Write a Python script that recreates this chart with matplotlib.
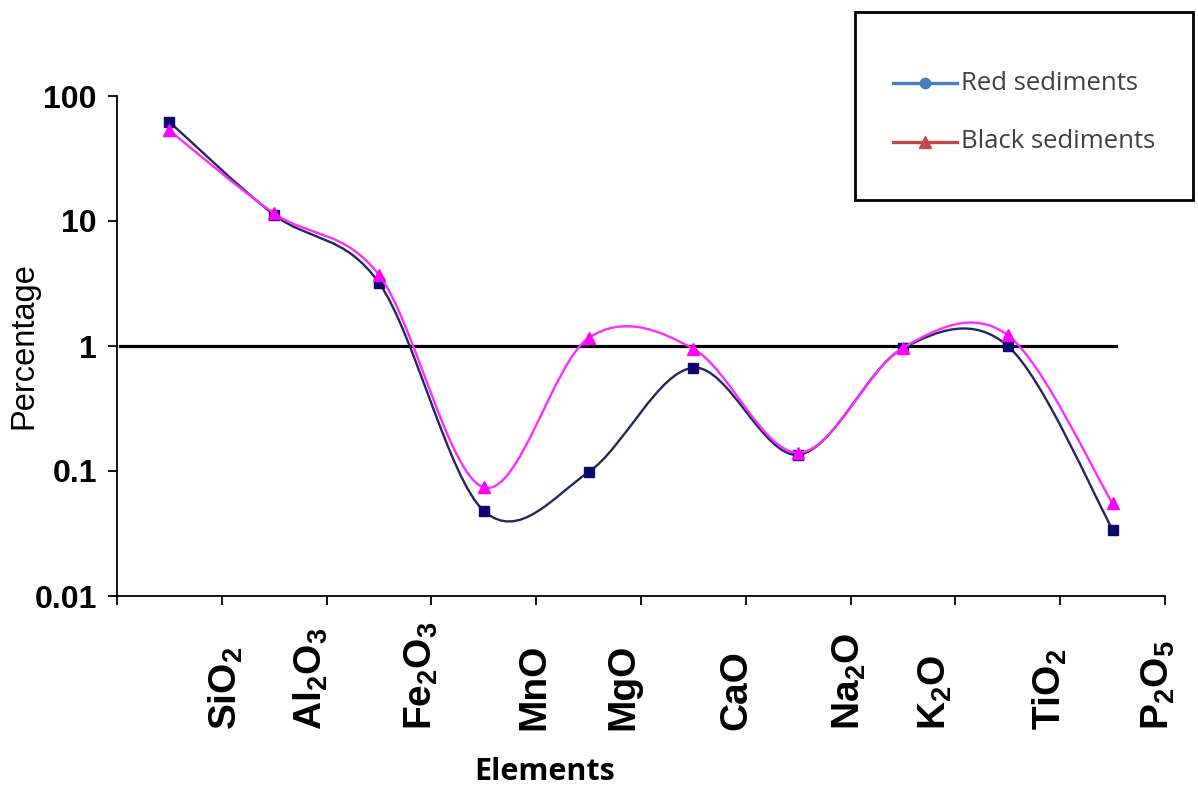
import numpy as np
import matplotlib
matplotlib.use("Agg")
import matplotlib.pyplot as plt
from matplotlib.path import Path
from matplotlib.patches import PathPatch, Rectangle
from matplotlib.lines import Line2D
import matplotlib.transforms as mtransforms

# ---------------- data ----------------
categories = [r"SiO$_2$", r"Al$_2$O$_3$", r"Fe$_2$O$_3$", "MnO", "MgO",
              "CaO", r"Na$_2$O", r"K$_2$O", r"TiO$_2$", r"P$_2$O$_5$"]
red_sediments = [62, 11.2, 3.2, 0.048, 0.098, 0.67, 0.135, 0.96, 1.0, 0.034]
black_sediments = [53, 11.5, 3.7, 0.074, 1.16, 0.95, 0.14, 0.97, 1.22, 0.055]
y_ticks = [0.01, 0.1, 1, 10, 100]
y_tick_labels = ["0.01", "0.1", "1", "10", "100"]
series_names = ["Red sediments", "Black sediments"]

# layout (offset category labels as in the original)
label_x_pos = [0.54, 1.35, 2.40, 3.48, 4.33, 5.41, 6.49, 7.31, 8.40, 9.44]

plt.rcParams["mathtext.fontset"] = "custom"
plt.rcParams["mathtext.rm"] = "Liberation Sans:bold"
plt.rcParams["mathtext.it"] = "Liberation Sans:bold"
plt.rcParams["mathtext.bf"] = "Liberation Sans:bold"
plt.rcParams["mathtext.default"] = "rm"
plt.rcParams["font.family"] = ["Liberation Sans", "DejaVu Sans"]

W, H = 1198, 787
fig = plt.figure(figsize=(W / 100, H / 100), dpi=100)


def fx(px):
    return px / W


def fy(py):
    return 1 - py / H


ax = fig.add_axes([fx(117), fy(596), fx(1165) - fx(117), fy(96) - fy(596)])
ax.set_yscale("log")
ax.set_ylim(0.01, 100)
ax.set_xlim(-0.5, len(categories) - 0.5)


def smooth_path(xs, ys):
    pts = np.column_stack([np.asarray(xs, float), np.log10(ys)])
    n = len(pts)
    verts = [pts[0]]
    codes = [Path.MOVETO]
    for i in range(n - 1):
        p0 = pts[max(i - 1, 0)]
        p1 = pts[i]
        p2 = pts[i + 1]
        p3 = pts[min(i + 2, n - 1)]
        c1 = p1 + (p2 - p0) / 6.0
        c2 = p2 - (p3 - p1) / 6.0
        verts += [c1, c2, p2]
        codes += [Path.CURVE4] * 3
    verts = np.array(verts)
    verts[:, 1] = 10 ** verts[:, 1]
    return Path(verts, codes)


x = np.arange(len(categories))

# reference line at 1
ax.axhline(1, xmin=0.003, xmax=0.953, color="black", lw=2.3, zorder=2)

red_col = "#26265e"
mag_col = "#ff2cff"
ax.add_patch(PathPatch(smooth_path(x, red_sediments), fill=False,
                       edgecolor=red_col, lw=1.7, zorder=3))
ax.plot(x, red_sediments, ls="none", marker="s", ms=7.5,
        color="#0a0a6e", zorder=4)
ax.add_patch(PathPatch(smooth_path(x, black_sediments), fill=False,
                       edgecolor=mag_col, lw=1.7, zorder=5))
ax.plot(x, black_sediments, ls="none", marker="^", ms=9,
        color="#ff00ff", zorder=6)

# axes styling
for s in ["top", "right"]:
    ax.spines[s].set_visible(False)
for s in ["left", "bottom"]:
    ax.spines[s].set_linewidth(1.3)
ax.set_yticks(y_ticks)
ax.set_yticklabels(y_tick_labels, fontsize=23, fontweight="bold")
ax.yaxis.set_minor_locator(matplotlib.ticker.NullLocator())
ax.tick_params(axis="y", length=6.5, width=1.3, pad=8)
ax.set_xticks(np.arange(len(categories) + 1) - 0.5)
ax.set_xticklabels([])
ax.tick_params(axis="x", length=6.5, width=1.3)

# category labels (offset like the source)
trans = mtransforms.blended_transform_factory(ax.transData, fig.transFigure)
for lx, lab in zip(label_x_pos, categories):
    ax.text(lx, fy(730), lab, transform=trans, rotation=90, ha="center",
            va="bottom", fontsize=28, fontweight="bold")

fig.text(fx(24), fy(346), "Percentage", rotation=90, ha="center",
         va="center", fontsize=23.5)
fig.text(fx(545), fy(772), "Elements", ha="center", va="center",
         fontsize=22, fontweight="bold", family=["Open Sans", "DejaVu Sans"])

# legend (manual, like the source box)
fig.add_artist(Rectangle((fx(855), fy(200)), fx(1193) - fx(855),
                         fy(12) - fy(200), transform=fig.transFigure,
                         fill=False, edgecolor="black", lw=2))
leg_items = [(83, "#4a7ebb", "o", 7.5), (142, "#be4b48", "^", 8.5)]
for (ly, col, mk, ms), name in zip(leg_items, series_names):
    fig.add_artist(Line2D([fx(893), fx(957)], [fy(ly), fy(ly)],
                          transform=fig.transFigure, color=col, lw=2.4))
    fig.add_artist(Line2D([fx(925)], [fy(ly)], transform=fig.transFigure,
                          color=col, marker=mk, ms=ms, ls="none"))
    fig.text(fx(961), fy(ly), name, ha="left", va="center", fontsize=18.5,
             color="#404040", family=["Open Sans", "DejaVu Sans"])

fig.savefig("out.png", dpi=100)
